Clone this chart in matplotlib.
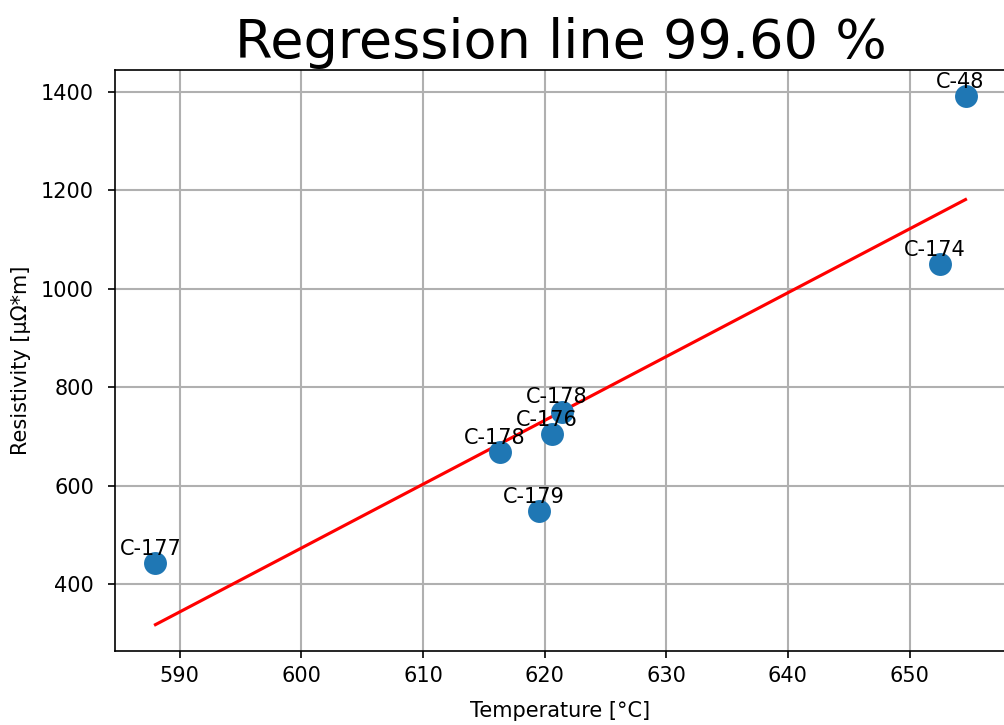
import numpy as np
import matplotlib
matplotlib.use('Agg')
import matplotlib.pyplot as plt

# measured samples
labels = ['C-177', 'C-178', 'C-179', 'C-176', 'C-178', 'C-174', 'C-48']
temperature = [588.0, 616.3, 619.5, 620.6, 621.4, 652.5, 654.6]
resistivity = [442, 668, 548, 705, 750, 1050, 1391]

def plot_regression(x, y, names):
    x = np.array(x)
    y = np.array(y)
    slope, intercept = np.polyfit(x, y, 1)
    xs = np.array([x.min(), x.max()])

    fig = plt.figure(figsize=(1004 / 150, 725 / 150), dpi=150)
    ax = fig.add_axes([0.1145, 0.102, 0.8875, 0.8014])
    ax.scatter(x, y, s=100, color='#1f77b4', zorder=3)
    ax.plot(xs, slope * xs + intercept, color='red', linewidth=1.5, zorder=2)
    for name, xi, yi in zip(names, x, y):
        ax.annotate(name, (xi, yi), textcoords='offset points', xytext=(-2.4, 4),
                    ha='center', va='baseline', fontsize=10, zorder=4)
    ax.set_xlabel('Temperature [°C]', labelpad=7.4)
    ax.set_ylabel('Resistivity [μΩ*m]', labelpad=5)
    ax.set_title('Regression line 99.60 %', fontsize=26)
    ax.tick_params(axis='y', pad=6.5)
    ax.grid(True, color='#b0b0b0', linewidth=1.0)
    ax.set_axisbelow(True)
    fig.savefig('out.png', dpi=150)

if __name__ == "__main__":
    plot_regression(temperature, resistivity, labels)
